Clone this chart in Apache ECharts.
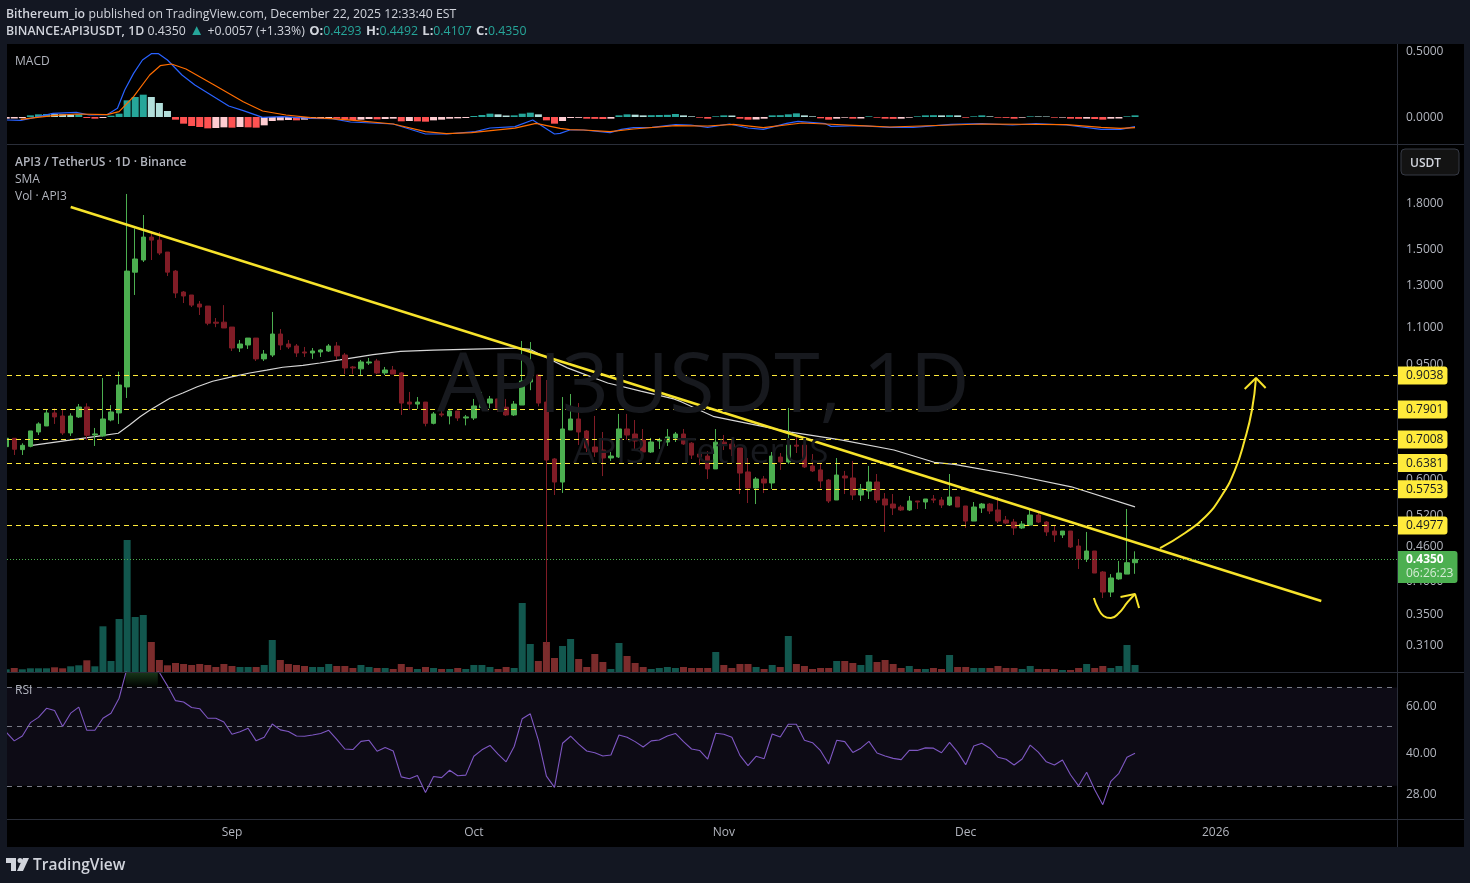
<!DOCTYPE html>
<html>
<head>
<meta charset="utf-8">
<title>API3USDT 1D</title>
<style>
  html, body { margin: 0; padding: 0; background: #131722; }
  #chart { width: 1470px; height: 883px; }
</style>
<script src="https://cdn.jsdelivr.net/npm/echarts@6/dist/echarts.min.js"></script>
</head>
<body>
<div id="chart"></div>
<script>
// days are counted from Sep 1 2025, first candle is Aug 4 (day -28)
const firstDay = -28;
const monthTicks = [0, 30, 61, 91, 122];
const monthLabels = ['Sep', 'Oct', 'Nov', 'Dec', '2026'];

// open, close, low, high
const candles = [
  [.6813,.7043,.6813,.7043],[.7043,.6742,.6591,.7043],[.6733,.6849,.6591,.6904],[.6822,.7252,.6795,.7252],
  [.7223,.7457,.7137,.7506],[.7397,.7790,.7397,.7883],[.7790,.7667,.7457,.7935],[.7697,.7195,.7137,.7883],
  [.7195,.7697,.7109,.7780],[.7667,.7977,.7636,.8073],[.7977,.7128,.6997,.8095],[.7137,.7166,.6831,.7339],
  [.7109,.7606,.7090,.8953],[.7576,.7821,.7536,.8040],[.7790,.8707,.7457,.9180],[.8640,1.370,.8269,1.862],
  [1.364,1.4375,1.2458,1.6240],[1.4318,1.5685,1.4205,1.7126],[1.5685,1.5497,1.4318,1.6069],[1.5497,1.4720,1.4604,1.6005],
  [1.4778,1.3643,1.3434,1.4778],[1.370,1.2556,1.2310,1.3760],[1.2605,1.2408,1.2065,1.2655],[1.2456,1.1965,1.1875,1.2456],
  [1.2015,1.1875,1.1504,1.2162],[1.1920,1.1135,1.1045,1.1920],[1.1180,1.1135,1.0960,1.1366],[1.1180,1.0925,1.0925,1.1965],
  [1.0965,1.0088,.9968,1.0965],[1.0088,1.0250,.9930,1.0415],[1.0210,1.0495,1.0050,1.0495],[1.0495,.9660,.9580,1.0495],
  [.9660,.9846,.9580,1.0008],[.9810,1.0665,.9735,1.1642],[1.0665,1.0210,1.0008,1.0880],[1.0250,1.0130,1.0050,1.0415],
  [1.0170,.9890,.9735,1.0250],[.9930,.9890,.9735,1.0130],[.9890,.9968,.9660,1.0088],[.9930,1.0008,.9735,1.0050],
  [.9968,1.0170,.9930,1.0250],[1.0170,.9775,.9620,1.0330],[.9811,.9317,.9095,.9890],[.9354,.9317,.9095,.9392],
  [.9285,.9543,.9060,.9620],[.9505,.9543,.9430,.9695],[.9580,.9135,.9095,.9660],[.9135,.9243,.9060,.9355],
  [.9243,.9095,.9095,.9392],[.9135,.8103,.7728,.9170],[.8135,.8070,.7885,.8470],[.8070,.8135,.7917,.8300],
  [.8135,.7475,.7386,.8135],[.7475,.7760,.7445,.7821],[.7760,.7728,.7668,.7852],[.7698,.7852,.7445,.7917],
  [.7852,.7636,.7545,.7852],[.7636,.7668,.7415,.7728],[.7636,.8010,.7575,.8237],[.7960,.8135,.7940,.8470],
  [.8103,.8237,.7940,.8335],[.8237,.7940,.7821,.8237],[.7970,.7728,.7698,.8237],[.7728,.8070,.7698,.8170],
  [.8040,.8847,.8040,1.0375],[.8812,.9060,.8530,1.0330],[.9060,.8103,.7998,.9060],[.8135,.6460,.3094,.8882],
  [.6487,.5918,.5620,.6512],[.5918,.7309,.5667,.8300],[.7280,.7606,.7280,.8400],[.7606,.7222,.6860,.8103],
  [.7251,.6777,.6670,.7280],[.6804,.6670,.6540,.7698],[.6722,.6512,.6060,.7222],[.6512,.6564,.6435,.6670],
  [.6540,.7309,.6512,.7760],[.7309,.7135,.6995,.7760],[.7165,.6968,.6750,.7575],[.6995,.6670,.6512,.7309],
  [.6670,.6940,.6645,.7053],[.6968,.6995,.6750,.7053],[.6940,.7081,.6832,.7309],[.7053,.7165,.6940,.7222],
  [.7165,.6887,.6860,.7309],[.6908,.6588,.6488,.6936],[.6615,.6537,.6330,.6722],[.6562,.6235,.5990,.6695],
  [.6235,.6936,.6235,.7307],[.6936,.6854,.6722,.7136],[.6881,.6749,.6562,.6993],[.6776,.6133,.5642,.6776],
  [.6160,.5780,.5444,.6511],[.5780,.5990,.5422,.6037],[.5990,.5896,.5664,.6062],[.5896,.6562,.5757,.6670],
  [.6537,.6410,.6210,.6643],[.6410,.6854,.6360,.7947],[.6854,.6827,.6643,.7080],[.6854,.6284,.6259,.6854],
  [.6309,.6186,.6160,.6615],[.6210,.5943,.5780,.6385],[.5966,.5488,.5444,.5990],[.5510,.6085,.5510,.6511],
  [.6062,.6014,.5642,.6186],[.6014,.5620,.5510,.6435],[.5620,.5757,.5488,.5872],[.5710,.5919,.5532,.6309],
  [.5919,.5510,.5444,.6110],[.5532,.5401,.4852,.5664],[.5422,.5337,.5190,.5642],[.5358,.5295,.5274,.5401],
  [.5295,.5488,.5274,.5598],[.5488,.5466,.5316,.5488],[.5466,.5532,.5316,.5532],[.5532,.5510,.5444,.5620],
  [.5510,.5401,.5337,.5576],[.5401,.5576,.5380,.6110],[.5576,.5358,.5358,.5576],[.5380,.5067,.4930,.5380],
  [.5067,.5358,.5067,.5466],[.5337,.5422,.5232,.5444],[.5422,.5274,.5211,.5444],[.5295,.5067,.5027,.5576],
  [.5087,.5027,.5007,.5170],[.5047,.4930,.4794,.5110],[.4930,.5007,.4910,.5067],[.4987,.5190,.4968,.5316],
  [.5190,.5047,.5027,.5232],[.5047,.4852,.4775,.5067],[.4870,.4794,.4663,.4968],[.4794,.4870,.4737,.4870],
  [.4870,.4570,.4552,.4870],[.4588,.4355,.4187,.4718],[.4355,.4498,.4305,.4852],[.4498,.4120,.4120,.4498],
  [.4137,.3820,.3730,.4153],[.3820,.4040,.3745,.4103],[.4025,.4120,.4010,.4323],[.4103,.4293,.4103,.5316],
  [.4293,.4350,.4107,.4492]
];

const volumes = [
  2.7,4,2.7,3.7,3.7,3.7,4.7,3.7,5.7,6.7,11.7,5.7,45.7,11,53,132,55,57,30,12,6.7,9,8,7,8,7,5,8,6,5,5,5,7,32,12,8,7,6,5,5,
  8,6,6,4,7,5,4,4,3,8,5,3,5,4,3,3,4,3,7,7,5,3,5,4,69,28,11,30,14,26,33,13,5,18,10,3,29,16,9,5,3,4,5,4,5,4,4,4,20,7,
  4,8,8,5,3,7,5,36,8,6,3,4,4,11,11,9,7,17,10,12,8,4,6,3,3,4,3,17,5,5,4,4,4,6,4,4,3,6,3,3,3,2,2,4,8,4,6,4,6,27,7
];

const smaDays = [-25,-17,-14.1,-12.7,-11.4,-10.2,-8.9,-7.7,-6.1,-4.3,-2.4,0.1,2.2,4.3,6.3,8.8,10.9,13.4,17.5,20.9,25,29.9,35.4,37,39.1,41.6,46.6,50.7,54.8,55.7,59.8,69.3,75.5,82.1,87.1,89.6,97,104.1,112];
const smaValues = [.684,.7089,.7186,.7424,.7676,.7876,.8073,.826,.8432,.8645,.8837,.900,.9132,.9238,.9345,.9415,.9504,.9619,.9823,.9954,1.0003,1.0045,1.0087,1.003,.9696,.932,.8777,.8495,.8237,.8148,.7675,.722,.6997,.6722,.6402,.635,.6086,.5807,.5362];

const levels = [.9038, .7901, .7008, .6381, .5753, .4977];
const lastPrice = .4350;
const lastCountdown = '06:26:23';
const priceTicks = [1.8, 1.5, 1.3, 1.1, .95, .6, .52, .46, .4, .35, .31];

// hand drawn trend line and arrows
const trendDays = [-20, 135.1];
const trendValues = [1.768, .3686];
const bigArrowDays = [115.1,118.2,120.7,122.8,124.4,125.6,126.5,127];
const bigArrowValues = [.4549,.4832,.515,.5621,.6209,.6997,.7884,.8954];
const bigHeadDays = [125.6,127,128.2];
const bigHeadValues = [.857,.8954,.8604];
const smallArrowDays = [106.9,107.4,108.1,109,110,111.1,112];
const smallArrowValues = [.3731,.3585,.3473,.3445,.3514,.3672,.3791];
const smallHeadDays = [110.2,112,112.5];
const smallHeadValues = [.3746,.3791,.3585];

const macdHist = [
  -.0126,-.0114,-.0088,.0126,.0202,.0227,.0215,.0202,.0177,.0202,-.0076,-.0126,-.0076,.0101,.0253,.1263,.1515,.1692,.1515,.1061,
  .0455,-.0202,-.0505,-.0682,-.0758,-.0859,-.0833,-.0783,-.0808,-.0758,-.0783,-.0808,-.0631,-.0303,-.0253,-.0227,-.0253,-.0202,-.0152,-.0126,
  -.0101,-.0126,-.0202,-.0227,-.0202,-.0152,-.0177,-.0152,-.0126,-.0328,-.0303,-.0328,-.0354,-.0253,-.0202,-.0126,-.0101,-.0076,.0076,.0152,
  .0253,.0202,.0114,.0126,.0253,.0328,.0202,-.0253,-.0505,-.0303,-.0076,-.0063,-.0126,-.0139,-.0152,-.0126,.0126,.0202,.0177,.0126,
  .0139,.0152,.0164,.0227,.0126,.0051,-.0051,-.0126,.0051,.0126,.0114,-.0126,-.0202,-.0189,-.0126,.0126,.0139,.0202,.0278,.0126,
  .0051,-.0101,-.0202,-.0126,-.0051,-.0126,-.0114,.0051,-.0051,-.0126,-.0139,-.0126,-.0051,.0051,.0126,.0139,.0126,.0139,.0126,-.0051,
  .0051,.0126,.0051,-.0051,-.0063,-.0126,-.0051,.0051,.0045,.0040,-.0051,-.0045,-.0126,-.0139,-.0126,-.0152,-.0202,-.0126,-.0114,.0051,.0126
];
const macdDays = [-27.9,-26.2,-24.4,-22.2,-19.3,-17.7,-15.5,-14.2,-13.3,-12.2,-11.1,-10,-9.1,-8,-6.2,-4.6,-2.6,-.4,1.4,3.8,6.2,9.8,12.4,14.7,20,24,26.6,30.2,32,35.1,37.3,40,40.7,41.9,43.6,46.9,48.3,49.8,52.1,55,56.9,59,61.7,64,65.9,68.8,70.2,73.6,74.3,77.8,81.6,84.5,89.2,93,96.8,99.7,103.5,107.8,110.2,112];
const macdValues = [-.0227,-.0253,-.0025,.0278,.0354,.0152,.0177,.0657,.2045,.3308,.4318,.4798,.4798,.4318,.3182,.2424,.1667,.0833,.048,-.0025,.0025,-.0101,-.0126,-.0379,-.053,-.1288,-.1288,-.1111,-.0833,-.0733,-.0227,-.1288,-.1237,-.0985,-.0985,-.1187,-.0934,-.0808,-.0783,-.0581,-.0606,-.0783,-.053,-.0833,-.0934,-.048,-.0328,-.0505,-.0707,-.0657,-.0783,-.0783,-.0556,-.0505,-.0606,-.0505,-.0606,-.0934,-.0934,-.0732];
const signalDays = [-26.2,-24.4,-22.2,-19.3,-15.5,-14,-12.2,-10.2,-8.9,-7.5,-5.7,-2.2,1.4,3.8,6.7,9.8,12.4,15.5,20,24,26.6,29.7,35.1,37.7,40.7,41.9,43.6,46.9,49.8,55,59,62.2,65.9,70.7,73.6,77.8,81.6,89.2,93,103.5,107.8,110.2,112];
const signalValues = [-.0177,-.0051,.0101,.0227,.0177,.0404,.154,.3182,.3889,.4015,.3636,.2424,.1162,.0455,.0152,-.0051,-.0126,-.0278,-.053,-.1111,-.1263,-.1187,-.0838,-.048,-.0859,-.096,-.0985,-.1111,-.0909,-.0657,-.0682,-.0556,-.0808,-.0455,-.053,-.0657,-.0758,-.0606,-.053,-.0581,-.0783,-.0859,-.0808];
const macdTicks = [0, .5];

const rsiValues = [
  47.6,44.2,46.1,51.7,54.1,58.5,57.4,50,56.1,59.1,48.4,48.4,53.7,56.1,63.8,83,88,88,85,79.6,71,62.5,61.8,58.9,58.3,53.7,53.7,52,46.8,47.8,
  49.3,44.2,45.6,51.1,48.6,47.9,46.1,46,46.5,47.1,48.4,44.8,41.2,41,44,44.4,40.4,41.7,40.5,32.4,31.9,32.8,28.3,32.5,32.2,34.3,32.7,32.9,38.7,40.9,
  42.5,39.4,36.9,42.1,53.5,55.8,44.5,32.6,29.6,43.3,46,43,40.5,39.9,38.8,39.1,46.5,45.6,43.9,41.9,44.2,44.5,46.1,47.1,43.9,41.2,40.7,37.8,47.2,46.8,
  45.6,39,35.7,38.7,37.9,46.9,45.7,51,51,44.4,43.5,40.6,36.2,44.4,43.9,40,41.5,44,39.8,38.8,38,37.6,40.7,40.7,41.6,41.5,39.9,43.6,40.1,36,
  42.3,43.3,41.5,38.4,37.7,35.9,37.8,42.6,40.1,36.9,35.9,37.5,33,30,33.7,29,25.5,31.2,33.4,38.4,39.7
];
const rsiLevels = [70, 50, 30];
const rsiTicks = [60, 40, 28];

const dayOf = i => firstDay + i;
const pairs = (xs, ys) => xs.map((x, i) => [x, ys[i]]);

const FONT = '"Open Sans", sans-serif';
const GREEN = '#4caf50';
const RED = '#801c26';
const YELLOW = '#ffeb3b';
const TREND = '#f7e32b';
const CLEAR = 'rgba(0,0,0,0)';
const GRID_LEFT = 7;
const GRID_WIDTH = 1390;
const DAY_MIN = -27.9;
const DAY_MAX = 144.49;

const hiddenX = gridIndex => ({
  type: 'value', gridIndex, min: DAY_MIN, max: DAY_MAX, show: false, splitLine: {show: false}
});

const tickLabel = {position: 'end', distance: 9, offset: [0, 1], formatter: '{b}', color: '#b2b5be', fontSize: 12, fontFamily: FONT};

// y labels of the panes are drawn as see-through mark lines
const tickLine = (values, digits) => ({
  silent: true,
  symbol: 'none',
  animation: false,
  precision: 4,
  lineStyle: {color: CLEAR, width: 1},
  label: tickLabel,
  data: values.map(v => ({yAxis: v, name: v.toFixed(digits)}))
});

const drawn = (name, xs, ys, width, smooth) => ({
  name, type: 'line', xAxisIndex: 0, yAxisIndex: 0, data: pairs(xs, ys),
  symbol: 'none', smooth: smooth || false, z: 5, silent: true, animation: false,
  lineStyle: {color: TREND, width}
});

const macdColor = (v, i) => {
  const prev = i > 0 ? macdHist[i - 1] : v;
  if (v >= 0) return v > prev ? '#26a69a' : '#b2dfdb';
  return v < prev ? '#ff5252' : '#ffcdd2';
};

const text = (x, y, str, size, color, extra) => ({
  type: 'text', x, y, z: 20, silent: true,
  style: Object.assign({text: str, fontFamily: FONT, fontSize: size, fill: color, verticalAlign: 'middle'}, extra || {})
});
const box = (x, y, width, height, fill, z) => ({
  type: 'rect', z: z === undefined ? 1 : z, silent: true, shape: {x, y, width, height}, style: {fill}
});

const chart = echarts.init(document.getElementById('chart'), null, {renderer: 'canvas'});

chart.setOption({
  animation: false,
  backgroundColor: '#131722',
  textStyle: {fontFamily: FONT},
  grid: [
    {left: GRID_LEFT, width: GRID_WIDTH, top: 145, height: 527},
    {left: GRID_LEFT, width: GRID_WIDTH, top: 540, height: 132},
    {left: GRID_LEFT, width: GRID_WIDTH, top: 46, height: 98},
    {left: GRID_LEFT, width: GRID_WIDTH, top: 672, height: 147}
  ],
  xAxis: [
    hiddenX(0), hiddenX(1), hiddenX(2),
    {
      type: 'value', gridIndex: 3, min: DAY_MIN, max: DAY_MAX,
      axisLine: {show: false}, axisTick: {show: false}, splitLine: {show: false},
      axisLabel: {
        customValues: monthTicks, margin: 8, color: '#b2b5be', fontSize: 12, fontFamily: FONT,
        formatter: v => monthLabels[monthTicks.indexOf(v)]
      }
    }
  ],
  yAxis: [
    {type: 'log', logBase: 10, gridIndex: 0, min: .2779, max: 2.2627, show: false, splitLine: {show: false}},
    {type: 'value', gridIndex: 1, min: 0, max: 132, show: false, splitLine: {show: false}},
    {type: 'value', gridIndex: 2, min: -.2045, max: .538, show: false, splitLine: {show: false}},
    {type: 'log', logBase: 10, gridIndex: 3, min: 22.54, max: 80, show: false, splitLine: {show: false}}
  ],
  series: [
    {
      name: 'Vol', type: 'bar', xAxisIndex: 1, yAxisIndex: 1, z: 1, barWidth: 7, silent: true,
      data: volumes.map((v, i) => ({
        value: [dayOf(i), v],
        itemStyle: {color: candles[i][1] >= candles[i][0] ? '#12574e' : '#7b2c2c'}
      }))
    },
    {
      name: 'SMA', type: 'line', xAxisIndex: 0, yAxisIndex: 0, z: 2, symbol: 'none', silent: true,
      data: pairs(smaDays, smaValues),
      lineStyle: {color: '#d6d6d6', width: 1.2},
      markLine: tickLine(priceTicks, 4)
    },
    {
      name: 'API3USDT', type: 'candlestick', xAxisIndex: 0, yAxisIndex: 0, z: 3, barWidth: 5, silent: true,
      data: candles.map((c, i) => [dayOf(i), c[0], c[1], c[2], c[3]]),
      itemStyle: {color: GREEN, color0: RED, borderColor: GREEN, borderColor0: RED, borderWidth: 1},
      markLine: {
        silent: true, symbol: 'none', animation: false, z: 6, precision: 4,
        data: levels.map(v => ({
          yAxis: v, name: v.toFixed(4),
          lineStyle: {color: YELLOW, type: [5, 4], width: 1},
          label: {
            position: 'end', distance: 1, formatter: '{b}', color: '#131722', fontSize: 12, fontFamily: FONT,
            backgroundColor: YELLOW, padding: [3, 4, 3, 8], borderRadius: [0, 3, 3, 0]
          }
        })).concat([{
          yAxis: lastPrice, name: lastPrice.toFixed(4),
          lineStyle: {color: GREEN, type: [1, 2], width: 1},
          label: {
            position: 'end', distance: 1, color: '#ffffff', fontSize: 12, fontFamily: FONT,
            offset: [0, 7.5],
            formatter: '{p|{b}}\n{t|' + lastCountdown + '}',
            backgroundColor: GREEN, padding: [2, 4, 2, 8], borderRadius: [0, 3, 3, 0],
            rich: {
              p: {color: '#ffffff', fontWeight: 'bold', fontSize: 12, fontFamily: FONT, lineHeight: 14},
              t: {color: '#d5ecd6', fontSize: 12, fontFamily: FONT, lineHeight: 14}
            }
          }
        }])
      }
    },
    drawn('Trend', trendDays, trendValues, 2.4),
    drawn('Big arrow', bigArrowDays, bigArrowValues, 2, .5),
    drawn('Big arrow head', bigHeadDays, bigHeadValues, 2),
    drawn('Small arrow', smallArrowDays, smallArrowValues, 2, .5),
    drawn('Small arrow head', smallHeadDays, smallHeadValues, 2),
    {
      name: 'MACD hist', type: 'bar', xAxisIndex: 2, yAxisIndex: 2, barWidth: 7, silent: true, z: 2,
      data: macdHist.map((v, i) => ({value: [dayOf(i), v], itemStyle: {color: macdColor(v, i)}})),
      markLine: tickLine(macdTicks, 4)
    },
    {
      name: 'MACD', type: 'line', xAxisIndex: 2, yAxisIndex: 2, symbol: 'none', silent: true, z: 3,
      data: pairs(macdDays, macdValues), lineStyle: {color: '#2962ff', width: 1.2}
    },
    {
      name: 'Signal', type: 'line', xAxisIndex: 2, yAxisIndex: 2, symbol: 'none', silent: true, z: 3,
      data: pairs(signalDays, signalValues), lineStyle: {color: '#ff6d00', width: 1.2}
    },
    {
      name: 'RSI', type: 'line', xAxisIndex: 3, yAxisIndex: 3, symbol: 'none', silent: true, z: 3,
      data: rsiValues.map((v, i) => [dayOf(i), v]),
      lineStyle: {color: '#7e57c2', width: 1.1},
      markArea: {
        silent: true, animation: false,
        data: [
          [{yAxis: 70, itemStyle: {color: '#0d0b15'}}, {yAxis: 30}],
          [{xAxis: -13.2, yAxis: 80, itemStyle: {color: new echarts.graphic.LinearGradient(0, 0, 0, 1, [
            {offset: 0, color: 'rgba(76,175,80,0.32)'}, {offset: 1, color: 'rgba(76,175,80,0)'}
          ])}}, {xAxis: -9.2, yAxis: 70}]
        ]
      },
      markLine: {
        silent: true, symbol: 'none', animation: false, precision: 4,
        data: rsiLevels.map(v => ({
          yAxis: v, name: '',
          lineStyle: {color: '#787b86', type: [5, 5], width: 1},
          label: {show: false}
        })).concat(rsiTicks.map(v => ({
          yAxis: v, name: v.toFixed(2),
          lineStyle: {color: CLEAR, width: 1},
          label: tickLabel
        })))
      }
    }
  ],
  graphic: [
    box(7, 44, 1457, 803, '#000000', -5),
    text(437, 388, 'API3USDT, 1D', 82.5, '#17191e', {z: -1}),
    text(573, 453, 'API3 / TetherUS', 35, '#17191e'),
    box(0, 44, 7, 803, '#131722', 30),
    box(7, 144, 1457, 1, '#2a2e39', 6),
    box(7, 672, 1457, 1, '#2a2e39', 6),
    box(7, 819, 1457, 1, '#2a2e39', 6),
    box(1397, 44, 1, 803, '#2a2e39', 6),
    {
      type: 'text', x: 6, y: 15, z: 20, silent: true,
      style: {
        text: '{b|Bithereum_io} {n|published on TradingView.com, December 22, 2025 12:33:40 EST}',
        verticalAlign: 'middle',
        rich: {
          b: {fontFamily: FONT, fontSize: 12.25, fontWeight: 600, fill: '#d1d4dc'},
          n: {fontFamily: FONT, fontSize: 12.25, fill: '#d1d4dc'}
        }
      }
    },
    {
      type: 'text', x: 6, y: 31, z: 20, silent: true,
      style: {
        text: '{b|BINANCE:API3USDT, 1D} {n|0.4350} {t|▲} {n|+0.0057 (+1.33%)} {l|O:}{v|0.4293} {l|H:}{v|0.4492} {l|L:}{v|0.4107} {l|C:}{v|0.4350}',
        verticalAlign: 'middle',
        rich: {
          b: {fontFamily: FONT, fontSize: 12.3, fontWeight: 600, fill: '#d1d4dc'},
          l: {fontFamily: FONT, fontSize: 13, fontWeight: 700, fill: '#d1d4dc', padding: [0, 0, 0, 1]},
          n: {fontFamily: FONT, fontSize: 12.3, fill: '#d1d4dc'},
          v: {fontFamily: FONT, fontSize: 12.3, fill: '#26a69a'},
          t: {fontFamily: FONT, fontSize: 15, fill: '#26a69a'}
        }
      }
    },
    text(15, 62, 'MACD', 12, '#b2b5be'),
    text(15, 163, 'API3 / TetherUS · 1D · Binance', 12, '#b2b5be', {fontWeight: 600}),
    text(15, 180, 'SMA', 12, '#b2b5be'),
    text(15, 197, 'Vol · API3', 12, '#b2b5be'),
    text(15, 691, 'RSI', 12, '#b2b5be'),
    {
      type: 'rect', z: 20, silent: true, shape: {x: 1401, y: 149, width: 58, height: 26, r: 4},
      style: {fill: '#131313', stroke: '#363a45', lineWidth: 1}
    },
    text(1410, 164, 'USDT', 12, '#d1d4dc', {fontWeight: 600}),
    // TradingView logo
    {type: 'polygon', z: 20, silent: true, shape: {points: [[6, 858], [16, 858], [16, 871], [11, 871], [11, 863], [6, 863]]}, style: {fill: '#d1d4dc'}},
    {type: 'circle', z: 20, silent: true, shape: {cx: 20, cy: 860.5, r: 2.5}, style: {fill: '#d1d4dc'}},
    {type: 'polygon', z: 20, silent: true, shape: {points: [[23, 858], [29, 858], [23, 871], [17, 871]]}, style: {fill: '#d1d4dc'}},
    text(33, 866, 'TradingView', 15.5, '#d1d4dc', {fontWeight: 600})
  ]
});
</script>
</body>
</html>
